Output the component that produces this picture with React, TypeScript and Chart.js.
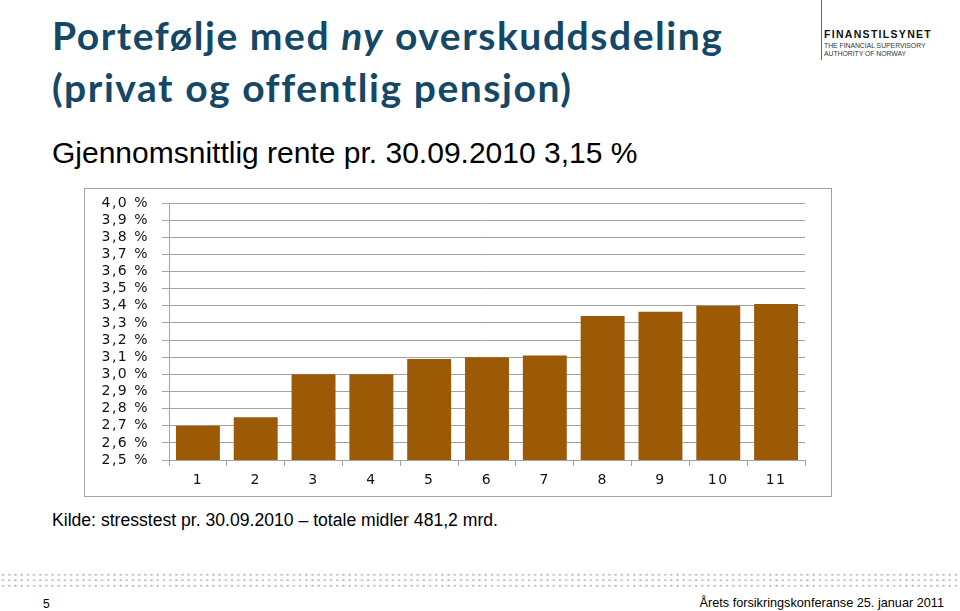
import React, { useEffect, useRef } from "react";
import { Chart, registerables } from "chart.js";

Chart.register(...registerables);

const categories = ["1", "2", "3", "4", "5", "6", "7", "8", "9", "10", "11"];
const rates = [2.7, 2.75, 3.0, 3.0, 3.09, 3.1, 3.11, 3.34, 3.365, 3.4, 3.41];
const yMin = 2.5;
const yMax = 4.0;
const yStep = 0.1;

const titleLine1a = "Portefølje med ";
const titleItalic = "ny";
const titleLine1b = " overskuddsdeling";
const titleLine2 = "(privat og offentlig pensjon)";
const subtitle = "Gjennomsnittlig rente pr. 30.09.2010 3,15 %";
const sourceText = "Kilde: stresstest pr. 30.09.2010 – totale midler 481,2 mrd.";
const pageNo = "5";
const footerText = "Årets forsikringskonferanse 25. januar 2011";

const BAR = "#9C5906";
const GRID = "#A3A3A3";
const AXISFONT = "'DejaVu Sans', Verdana, sans-serif";

const spacingPlugin = {
  id: "letterSpacing",
  beforeDraw(chart: any) {
    chart.ctx.letterSpacing = "1.5px";
  },
};

function BarChart() {
  const ref = useRef<HTMLCanvasElement | null>(null);
  useEffect(() => {
    if (!ref.current) return;
    const chart = new Chart(ref.current, {
      type: "bar",
      data: {
        labels: categories,
        datasets: [
          {
            data: rates,
            backgroundColor: BAR,
            borderWidth: 0,
            barPercentage: 0.76,
            categoryPercentage: 1.0,
          },
        ],
      },
      plugins: [spacingPlugin],
      options: {
        responsive: false,
        animation: false,
        layout: { padding: { top: 14, right: 26, left: 0, bottom: 0 } },
        plugins: { legend: { display: false }, tooltip: { enabled: false } },
        scales: {
          x: {
            offset: true,
            grid: {
              display: true,
              offset: true,
              drawOnChartArea: false,
              drawTicks: true,
              tickLength: 6,
              color: GRID,
            },
            border: { display: true, color: GRID },
            ticks: {
              font: { family: AXISFONT, size: 14 },
              color: "#111",
              padding: 6,
              maxRotation: 0,
              autoSkip: false,
            },
            afterFit: (s: any) => {
              s.height = 36;
              s.paddingLeft = 0;
              s.paddingRight = 0;
            },
          },
          y: {
            min: yMin,
            max: yMax,
            ticks: {
              stepSize: yStep,
              autoSkip: false,
              font: { family: AXISFONT, size: 14 },
              color: "#111",
              padding: 13,
              callback: (v: any) => Number(v).toFixed(1).replace(".", ",") + " %",
            },
            grid: { color: GRID, tickLength: 7, drawTicks: true },
            border: { display: true, color: GRID },
            afterFit: (s: any) => {
              s.width = 84;
              s.paddingTop = 0;
              s.paddingBottom = 0;
            },
          },
        },
      },
    });
    return () => chart.destroy();
  }, []);
  return <canvas ref={ref} width={746} height={307} style={{ display: "block", width: 746, height: 307 }} />;
}

export default function App() {
  const abs: React.CSSProperties = { position: "absolute", whiteSpace: "nowrap", margin: 0 };
  return (
    <div style={{ position: "absolute", left: 0, top: 0, width: 960, height: 611, background: "#fff", overflow: "hidden" }}>
      <div
        style={{
          ...abs,
          left: 52,
          top: 9,
          fontFamily: "Lato, 'Open Sans', sans-serif",
          fontWeight: 700,
          fontSize: 39,
          letterSpacing: "1.55px",
          lineHeight: "52px",
          color: "#144866",
        }}
      >
        <div>
          {titleLine1a}
          <i>{titleItalic}</i>
          {titleLine1b}
        </div>
        <div>{titleLine2}</div>
      </div>
      <div
        style={{
          ...abs,
          left: 52,
          top: 138,
          fontFamily: "'Liberation Sans', Arial, sans-serif",
          fontSize: 30,
          lineHeight: "30px",
          color: "#000",
        }}
      >
        {subtitle}
      </div>

      <div style={{ ...abs, left: 821, top: 0, width: 1, height: 60, background: "#666" }} />
      <div
        style={{
          ...abs,
          left: 824,
          top: 29,
          fontFamily: "'Liberation Sans', Arial, sans-serif",
          fontWeight: 700,
          fontSize: 10.5,
          letterSpacing: "1.3px",
          lineHeight: "10px",
          color: "#111",
        }}
      >
        FINANSTILSYNET
      </div>
      <div
        style={{
          ...abs,
          left: 824,
          top: 42,
          fontFamily: "'Liberation Sans', Arial, sans-serif",
          fontSize: 6.8,
          lineHeight: "7.5px",
          color: "#333",
        }}
      >
        <div>THE FINANCIAL SUPERVISORY</div>
        <div>AUTHORITY OF NORWAY</div>
      </div>

      <div style={{ ...abs, left: 84, top: 188, border: `1px solid ${GRID}`, width: 746, height: 307 }}>
        <BarChart />
      </div>

      <div
        style={{
          ...abs,
          left: 52,
          top: 511,
          fontFamily: "'Liberation Sans', Arial, sans-serif",
          fontSize: 17.6,
          lineHeight: "18px",
          color: "#000",
        }}
      >
        {sourceText}
      </div>

      <div
        style={{
          ...abs,
          left: 0,
          top: 572,
          width: 960,
          height: 16.5,
          backgroundImage: "radial-gradient(circle at center, #A9B6BF 0.8px, rgba(255,255,255,0) 1.3px)",
          backgroundSize: "6.2px 5.5px",
        }}
      />
      <div
        style={{
          ...abs,
          left: 43,
          top: 598,
          fontFamily: "'Liberation Sans', Arial, sans-serif",
          fontSize: 12,
          lineHeight: "12px",
          color: "#000",
        }}
      >
        {pageNo}
      </div>
      <div
        style={{
          ...abs,
          right: 16,
          top: 597,
          fontFamily: "'Liberation Sans', Arial, sans-serif",
          fontSize: 12.7,
          lineHeight: "13px",
          color: "#000",
        }}
      >
        {footerText}
      </div>
    </div>
  );
}
